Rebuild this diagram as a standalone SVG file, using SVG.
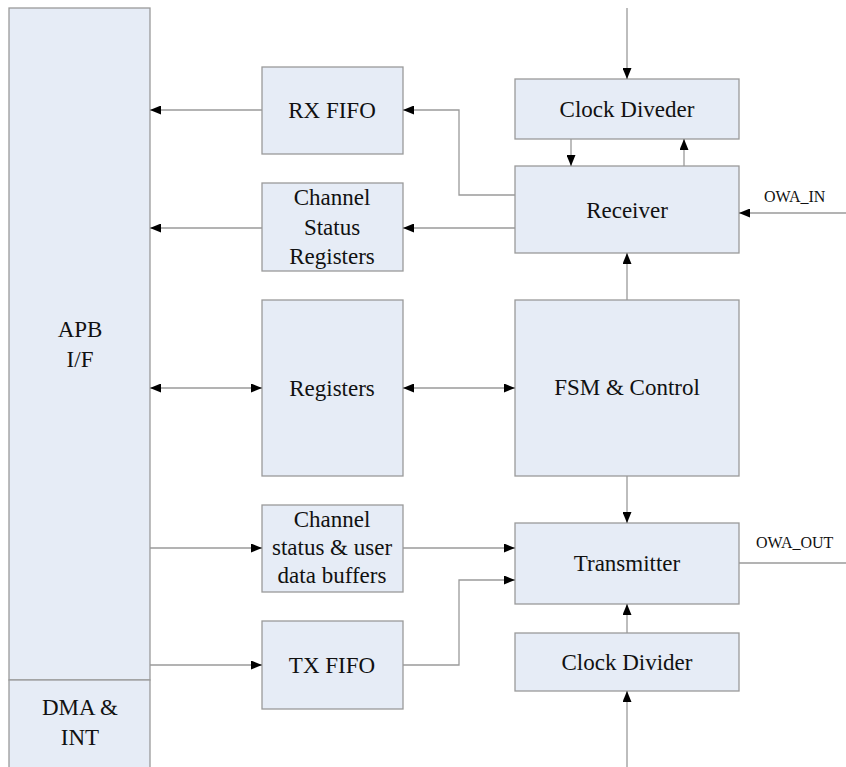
<svg xmlns="http://www.w3.org/2000/svg" width="846" height="767" viewBox="0 0 846 767">
<style>
.box{fill:#E6ECF6;stroke:#9A9A9A;stroke-width:1.3}
.c{fill:none;stroke:#9A9A9A;stroke-width:1.3}
</style>
<defs>
<marker id="a" markerUnits="userSpaceOnUse" markerWidth="11" markerHeight="9" refX="11" refY="4.5" orient="auto-start-reverse">
<path d="M0,0 L11,4.5 L0,9 z" fill="#000"/>
</marker>
</defs>
<rect width="846" height="767" fill="#fff"/>
<g font-family="Liberation Serif, Times New Roman, serif" font-size="23" fill="#111" text-anchor="middle">
<g id="apb"><rect class="box" x="9" y="8" width="141" height="672"/><text x="80" y="337">APB</text><text x="80" y="367">I/F</text></g>
<g id="dma"><rect class="box" x="9" y="680" width="141" height="90"/><text x="80" y="715">DMA &amp;</text><text x="80" y="745">INT</text></g>
<g id="rxfifo"><rect class="box" x="262" y="67" width="141" height="87"/><text x="332" y="118">RX FIFO</text></g>
<g id="chstat"><rect class="box" x="262" y="183" width="141" height="88"/><text x="332" y="205">Channel</text><text x="332" y="235">Status</text><text x="332" y="264">Registers</text></g>
<g id="regs"><rect class="box" x="262" y="300" width="141" height="176"/><text x="332" y="396">Registers</text></g>
<g id="chbuf"><rect class="box" x="262" y="505" width="141" height="87"/><text x="332" y="527">Channel</text><text x="332" y="555">status &amp; user</text><text x="332" y="583">data buffers</text></g>
<g id="txfifo"><rect class="box" x="262" y="621" width="141" height="88"/><text x="332" y="673">TX FIFO</text></g>
<g id="clkdiv1"><rect class="box" x="515" y="79" width="224" height="60"/><text x="627" y="117">Clock Diveder</text></g>
<g id="receiver"><rect class="box" x="515" y="166" width="224" height="87"/><text x="627" y="218">Receiver</text></g>
<g id="fsm"><rect class="box" x="515" y="300" width="224" height="176"/><text x="627" y="395">FSM &amp; Control</text></g>
<g id="transmitter"><rect class="box" x="515" y="523" width="224" height="81"/><text x="627" y="571">Transmitter</text></g>
<g id="clkdiv2"><rect class="box" x="515" y="633" width="224" height="58"/><text x="627" y="670">Clock Divider</text></g>
<g id="labels" font-size="16" text-anchor="start"><text x="764" y="202">OWA_IN</text><text x="756" y="548">OWA_OUT</text></g>
</g>
<g id="connectors">
<path class="c" d="M262,110 H150" marker-end="url(#a)"/>
<path class="c" d="M262,228 H150" marker-end="url(#a)"/>
<path class="c" d="M515,195 H459 V110 H403" marker-end="url(#a)"/>
<path class="c" d="M515,228 H403" marker-end="url(#a)"/>
<path class="c" d="M627,8 V79" marker-end="url(#a)"/>
<path class="c" d="M571,139 V166" marker-end="url(#a)"/>
<path class="c" d="M684,166 V139" marker-end="url(#a)"/>
<path class="c" d="M846,213 H739" marker-end="url(#a)"/>
<path class="c" d="M627,300 V253" marker-end="url(#a)"/>
<path class="c" d="M150,388 H262" marker-start="url(#a)" marker-end="url(#a)"/>
<path class="c" d="M403,388 H515" marker-start="url(#a)" marker-end="url(#a)"/>
<path class="c" d="M627,476 V523" marker-end="url(#a)"/>
<path class="c" d="M150,548 H262" marker-end="url(#a)"/>
<path class="c" d="M403,548 H515" marker-end="url(#a)"/>
<path class="c" d="M403,665 H459 V580 H515" marker-end="url(#a)"/>
<path class="c" d="M150,665 H262" marker-end="url(#a)"/>
<path class="c" d="M739,563 H846"/>
<path class="c" d="M627,633 V604" marker-end="url(#a)"/>
<path class="c" d="M627,767 V691" marker-end="url(#a)"/>
</g>
</svg>
